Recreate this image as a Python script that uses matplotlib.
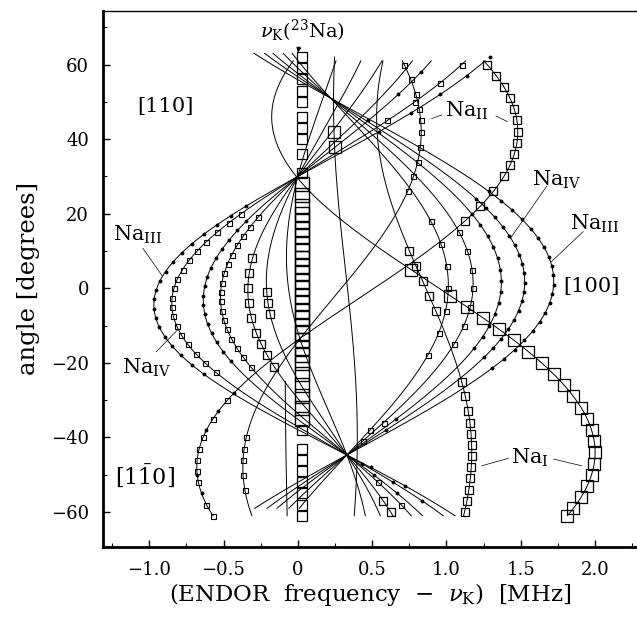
import numpy as np
import matplotlib.pyplot as plt
from matplotlib.ticker import FixedLocator, FixedFormatter, MultipleLocator

plt.rcParams['font.family'] = ['DejaVu Serif']
plt.rcParams['mathtext.fontset'] = 'dejavuserif'

# fitted angular curves, d = angle - t0:
# freq = a + b*cos(2d) + c*sin(2d) + e*cos(4d), drawn between lo and hi (deg)
curve_name = ['L1', 'L2', 'L3', 'L4', 'L5', 'L6', 'L7',
              'R1', 'R2', 'R3', 'R4', 'R5',
              'NaI_r', 'NaI_l', 'NaII_r', 'NaII_l', 'E1', 'E2']
curve_a = [0.4334, 0.4044, 0.3532, 0.3250, 0.2798, 0.2483, 0.2113,
           0.4056, 0.3879, 0.3737, 0.3565, 0.3414,
           0.912, 0.85, 0.40, 0.23, 0.32, -0.07]
curve_b = [-1.305, -1.164, -0.915, -0.778, -0.558, -0.405, -0.225,
           1.315, 1.137, 0.994, 0.821, 0.669,
           1.088, 0.32, 1.08, 0.60, 0.08, -0.015]
curve_c = [-0.171, -0.171, -0.171, -0.171, -0.171, -0.171, -0.171,
           -0.0553, -0.0553, -0.0553, -0.0553, -0.0553,
           0, 0, 0, 0, 0, 0]
curve_e = [-0.0883, -0.0788, -0.0619, -0.0527, -0.0378, -0.0274, -0.0152,
           0, 0, 0, 0, 0,
           0, 0, 0, 0, 0, 0]
curve_t0 = [-7.35, -7.35, -7.35, -7.35, -7.35, -7.35, -7.35,
            3.15, 3.15, 3.15, 3.15, 3.15,
            -44, -44, 42, 42, -40, -20]
curve_lo = [-61, -61, -61, -61, -61, -61, -61,
            -59, -59, -59, -59, -59,
            -61, -61, -61, -61, -61, -61]
curve_hi = [61, 61, 61, 61, 61, 61, 61,
            63, 63, 63, 63, 63,
            61, 61, 61, 61, 62, -25]

# measured points (angles in degrees) on each curve
dots = {
    'L1': [22, 19.5, 17, 14.5, 12, 9.5, 7, 4.5, 2, -0.5, -3, -5.5, -8, -10.5, -13,
           -15.5, -18, -20.5, -23, 42, 47, 52, 57, 62, -48, -53],
    'L3': [18, 15.5, 13, 10.5, 8, 5.5, 3, 0.5, -2, -4.5, -7, -9.5, -12, -14.5, -17, -19.5,
           45, 52, 58, -50, -55],
    'R1': [26, 23.5, 21, 18.5, 16, 13.5, 11, 8.5, 6, 3.5, 1, -1.5, -4, -6.5, -9, -11.5,
           -14, -16.5, -19, -21.5],
    'R2': [24, 21.5, 19, 16.5, 14, 11.5, 9, 6.5, 4, 1.5, -1, -3.5, -6, -8.5, -11, -13.5,
           -16, -18.5, -38],
    'R3': [20, 17, 14, 11, 8, 5, 2, -1, -4, -7, -10, -13, -16, -35],
    'NaII_r': [-28, -33, -38, -50, -55],
    'L2': [-47, -52, -57],
}
small_sq = {
    'L2': [20, 17.5, 15, 12.5, 10, 7.5, 5, 2.5, 0, -2.5, -5, -7.5, -10, -12.5, -15,
           -17.5, -20, -22.5, 45, 50, 55, 60],
    'L4': [19, 16.5, 14, 11.5, 9, 6.5, 4, 1.5, -1, -3.5, -6, -8.5, -11, -13.5, -16,
           -18.5, -21, -52, -58],
    'R4': [15, 10, 5, 0, -5, -10, -15, -36, -41],
    'R5': [18, 12, 6, 0, -6, -12, -18, -38],
    'NaII_l': [60, 56, 52, 48, 45, 42, 38, 34, 30, 26, -40, -43, -46, -50, -54],
    'NaII_r': [-30, -35, -40, -43, -46, -49, -52, -58, -61],
}
mid_sq = {
    'L5': [8, 4, 0, -4, -8, -12, -15, -18, -21, -57, -60],
    'L6': [-1, -4, -7],
    'NaI_l': [-25, -29, -33, -36, -39, -42, -45, -48, -51, -54, -57, -60, 10, 6, 2, -2, -6],
    'NaII_r': [60, 57, 54, 51, 48, 45, 42, 39, 36, 33, 30, 26, 22, 18],
}
big_sq = {
    'NaI_r': [5, -2, -5, -8, -11, -14, -17, -20, -23, -26, -29, -32, -35, -38, -41,
              -44, -47, -50, -53, -56, -59, -61],
    'E1': [42, 38],
}
# nu_K (23Na) line: squares near zero frequency
nuk_freq = 0.025
nuk_big = [28, 25, 22, 20, 18, 16, 14, 12, 10, 8, 6, 4, 2, 0, -2, -4, -6, -8, -10,
           -12, -14, -16, -18, -20, -23, -26, -29, -32, -35]
nuk_mid = [62, 59, 56, 53, 50, 46, 43, 40, 36, 31, -38, -43, -46, -49, -52, -55, -58, -61]


def freq(name, th):
    i = curve_name.index(name)
    d = np.radians(np.asarray(th, dtype=float) - curve_t0[i])
    return (curve_a[i] + curve_b[i] * np.cos(2 * d) + curve_c[i] * np.sin(2 * d)
            + curve_e[i] * np.cos(4 * d))


fig = plt.figure(figsize=(6.37, 6.19), dpi=100)
ax = fig.add_axes([103 / 637, 1 - 546.7 / 619, 1 - 103 / 637, (546.7 - 10.5) / 619])

for i, name in enumerate(curve_name):
    th = np.linspace(curve_lo[i], curve_hi[i], 500)
    ax.plot(freq(name, th), th, color='k', lw=0.7)

for name, ang in dots.items():
    ax.plot(freq(name, ang), ang, ls='none', marker='o', ms=1.8, mfc='k', mec='k')
for name, ang in small_sq.items():
    ax.plot(freq(name, ang), ang, ls='none', marker='s', ms=3.6, mfc='none', mec='k', mew=0.8)
for name, ang in mid_sq.items():
    ax.plot(freq(name, ang), ang, ls='none', marker='s', ms=5.5, mfc='none', mec='k', mew=0.9)
for name, ang in big_sq.items():
    ax.plot(freq(name, ang), ang, ls='none', marker='s', ms=8, mfc='none', mec='k', mew=0.9)
ax.plot([nuk_freq] * len(nuk_big), nuk_big, ls='none', marker='s', ms=9.5, mfc='none', mec='k', mew=1.0)
ax.plot([nuk_freq] * len(nuk_mid), nuk_mid, ls='none', marker='s', ms=7, mfc='none', mec='k', mew=0.9)

ax.set_xlim(-1.311, 2.282)
ax.set_ylim(-69.3, 74.5)

ax.xaxis.set_major_locator(FixedLocator([-1.0, -0.5, 0, 0.5, 1.0, 1.5, 2.0]))
ax.xaxis.set_major_formatter(FixedFormatter(['\u22121.0', '\u22120.5', '0', '0.5', '1.0', '1.5', '2.0']))
ax.xaxis.set_minor_locator(MultipleLocator(0.25))
ax.yaxis.set_major_locator(FixedLocator([-60, -40, -20, 0, 20, 40, 60]))
ax.yaxis.set_major_formatter(FixedFormatter(['\u221260', '\u221240', '\u221220', '0', '20', '40', '60']))
ax.yaxis.set_minor_locator(MultipleLocator(10))
ax.tick_params(which='both', direction='in', top=False, right=False, labelsize=13)
ax.tick_params(which='major', length=5, width=1.0, pad=10)
ax.tick_params(which='minor', length=3, width=0.8)
ax.spines['right'].set_visible(False)
ax.spines['left'].set_linewidth(2.0)
ax.spines['bottom'].set_linewidth(2.0)
ax.spines['top'].set_linewidth(1.0)

ax.set_xlabel(r'(ENDOR  frequency  $-$  $\nu_{\rm K}$)  [MHz]', fontsize=16.5, labelpad=2)
ax.set_ylabel('angle [degrees]', fontsize=17.5, labelpad=8)

# labels and leader lines
ax.annotate(r'$\nu_{\rm K}(^{23}{\rm Na})$', xy=(0.0, 63.2), xytext=(0.03, 69.0),
            ha='center', va='center', fontsize=14,
            arrowprops=dict(arrowstyle='-|>', color='k', lw=0.8, mutation_scale=7,
                            shrinkA=9, shrinkB=0))
ax.text(-0.894, 48.7, '[110]', fontsize=15, ha='center', va='center')
ax.text(1.978, 0.4, '[100]', fontsize=15, ha='center', va='center')
ax.text(-1.03, -50.5, r'$[1\bar{1}0]$', fontsize=16, ha='center', va='center')
ax.text(-1.075, 14.3, r'Na$_{\rm III}$', fontsize=15, ha='center', va='center')
ax.text(-1.02, -21.4, r'Na$_{\rm IV}$', fontsize=15, ha='center', va='center')
ax.text(1.137, 47.5, r'Na$_{\rm II}$', fontsize=15, ha='center', va='center')
ax.text(1.742, 29.0, r'Na$_{\rm IV}$', fontsize=15, ha='center', va='center')
ax.text(2.0, 17.4, r'Na$_{\rm III}$', fontsize=15, ha='center', va='center')
ax.text(1.5625, -45.6, r'Na$_{\rm I}$', fontsize=15, ha='center', va='center')

leaders = [((-1.042, 10.7), (-0.912, 3.3)), ((-0.952, -17.0), (-0.806, -11.0)),
           ((0.968, 46.5), (0.90, 45.5)), ((1.333, 46.2), (1.41, 44.7)),
           ((1.675, 27.4), (1.43, 13.4)), ((1.92, 15.2), (1.705, 7.1)),
           ((1.417, -45.6), (1.237, -47.6)), ((1.72, -45.8), (1.91, -47.6))]
for p, q in leaders:
    ax.plot([p[0], q[0]], [p[1], q[1]], color='k', lw=0.5)

fig.savefig('out.png', dpi=100)
